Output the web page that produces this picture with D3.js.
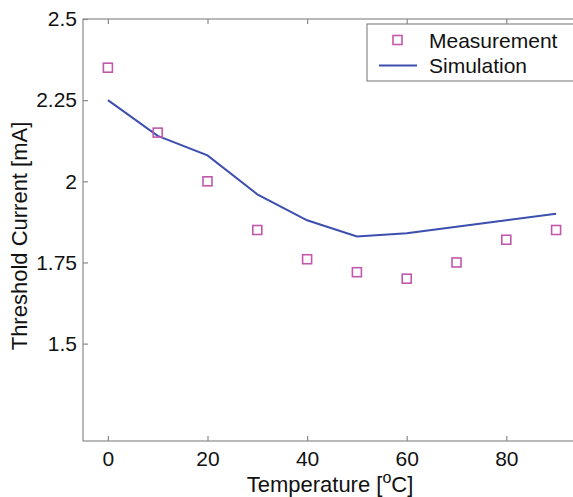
<!DOCTYPE html>
<html>
<head>
<meta charset="utf-8">
<script src="https://cdn.jsdelivr.net/npm/d3@7"></script>
<style>
  body { margin: 0; background: #fff; }
  svg { display: block; font-family: "Liberation Sans", Arial, sans-serif; }
</style>
</head>
<body>
<div id="chart"></div>
<script>
// temperatures in degrees C
const temperatures = [0, 10, 20, 30, 40, 50, 60, 70, 80, 90];
const measurement = [2.35, 2.15, 2.0, 1.85, 1.76, 1.72, 1.70, 1.75, 1.82, 1.85];
const simulation = [2.25, 2.14, 2.08, 1.96, 1.88, 1.83, 1.84, 1.86, 1.88, 1.90];
const xTicks = [0, 20, 40, 60, 80];
const yTicks = [1.5, 1.75, 2, 2.25, 2.5];

const width = 573;
const height = 497;
const margin = { top: 19, left: 83 };
const plotW = 498;
const plotH = 422;

const svg = d3.select('#chart')
    .append('svg')
    .attr('width', width)
    .attr('height', height);

const x = d3.scaleLinear().domain([-5, 95]).range([margin.left, margin.left + plotW]);
const y = d3.scaleLinear().domain([1.2, 2.5]).range([margin.top + plotH, margin.top]);

const axisColor = '#8a8a8a';
const blue = '#3c4fae';
const magenta = '#c258ae';

// frame (right side falls outside the window)
svg.append('rect')
    .attr('x', x(-5)).attr('y', y(2.5))
    .attr('width', plotW).attr('height', plotH)
    .attr('fill', 'none')
    .attr('stroke', axisColor)
    .attr('stroke-width', 1.2);

// axes with inward ticks
const xAxisBottom = svg.append('g')
    .attr('transform', `translate(0,${y(1.2)})`)
    .call(d3.axisBottom(x).tickValues(xTicks).tickSize(-5).tickPadding(10).tickFormat(d3.format('d')));
const xAxisTop = svg.append('g')
    .attr('transform', `translate(0,${y(2.5)})`)
    .call(d3.axisTop(x).tickValues(xTicks).tickSize(-5).tickFormat(''));
const yAxisLeft = svg.append('g')
    .attr('transform', `translate(${x(-5)},0)`)
    .call(d3.axisLeft(y).tickValues(yTicks).tickSize(-5).tickPadding(6).tickFormat(d => String(d)));

[xAxisBottom, xAxisTop, yAxisLeft].forEach(g => {
    g.select('.domain').remove();
    g.selectAll('.tick line').attr('stroke', axisColor).attr('stroke-width', 1.2);
    g.selectAll('.tick text').attr('fill', '#111').style('font-size', '21px');
});

// simulation line
const line = d3.line()
    .x((d, i) => x(temperatures[i]))
    .y(d => y(d));

svg.append('path')
    .datum(simulation)
    .attr('d', line)
    .attr('fill', 'none')
    .attr('stroke', blue)
    .attr('stroke-width', 2);

// measurement squares
const sq = 9;
svg.append('g')
    .selectAll('rect')
    .data(measurement)
    .enter()
    .append('rect')
    .attr('x', (d, i) => x(temperatures[i]) - sq / 2)
    .attr('y', d => y(d) - sq / 2)
    .attr('width', sq)
    .attr('height', sq)
    .attr('fill', 'none')
    .attr('stroke', magenta)
    .attr('stroke-width', 1.6);

// legend
const legend = svg.append('g').attr('transform', 'translate(367,24)');
legend.append('rect')
    .attr('width', 230).attr('height', 57)
    .attr('fill', '#fff')
    .attr('stroke', axisColor)
    .attr('stroke-width', 1.2);
legend.append('rect')
    .attr('x', 30.5 - sq / 2).attr('y', 16 - sq / 2)
    .attr('width', sq).attr('height', sq)
    .attr('fill', 'none').attr('stroke', magenta).attr('stroke-width', 1.6);
legend.append('line')
    .attr('x1', 12).attr('x2', 50).attr('y1', 41.5).attr('y2', 41.5)
    .attr('stroke', blue).attr('stroke-width', 2);
legend.append('text')
    .attr('x', 62).attr('y', 23.5)
    .style('font-size', '21px').attr('fill', '#111')
    .text('Measurement');
legend.append('text')
    .attr('x', 62).attr('y', 49)
    .style('font-size', '21px').attr('fill', '#111')
    .text('Simulation');

// axis titles
svg.append('text')
    .attr('transform', `translate(27,${(y(1.2) + y(2.5)) / 2 + 6}) rotate(-90)`)
    .attr('text-anchor', 'middle')
    .style('font-size', '22px').attr('fill', '#111')
    .text('Threshold Current [mA]');

const xTitle = svg.append('text')
    .attr('x', 330).attr('y', 492)
    .attr('text-anchor', 'middle')
    .style('font-size', '22px').attr('fill', '#111');
xTitle.append('tspan').text('Temperature [');
xTitle.append('tspan').attr('dy', -9).style('font-size', '16px').text('o');
xTitle.append('tspan').attr('dy', 9).text('C]');
</script>
</body>
</html>
